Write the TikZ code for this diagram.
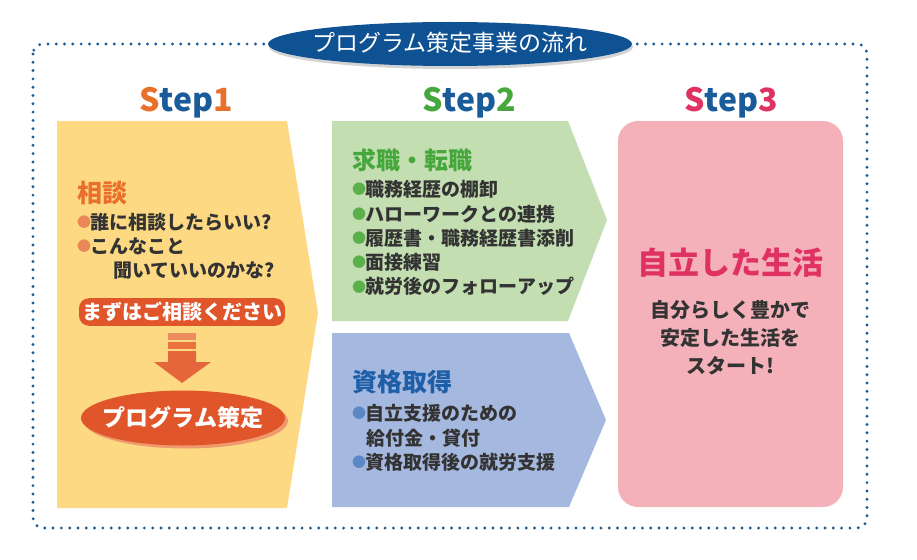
\documentclass[tikz,border=0pt]{standalone}
\usepackage{fontspec}
\setmainfont{Noto Sans CJK JP}
\usepackage{xcolor}
\usetikzlibrary{positioning,shapes.geometric,shadows,calc}

\definecolor{bordo}{HTML}{1A5C9A}
\definecolor{titblu}{HTML}{0F5294}
\definecolor{giallo}{HTML}{FDD984}
\definecolor{verde}{HTML}{C3DEB1}
\definecolor{azzurro}{HTML}{A5B8DF}
\definecolor{rosa}{HTML}{F4B1B9}
\definecolor{arancio}{HTML}{E8702B}
\definecolor{arancioscuro}{HTML}{E0552A}
\definecolor{ombra}{HTML}{EE9A6C}
\definecolor{pallor}{HTML}{EA8756}
\definecolor{verdetesto}{HTML}{46A83C}
\definecolor{pallver}{HTML}{5CB04C}
\definecolor{blutesto}{HTML}{1E5FA8}
\definecolor{pallblu}{HTML}{5B88C4}
\definecolor{cremisi}{HTML}{E03262}
\definecolor{testo}{HTML}{333333}
\definecolor{stris1}{HTML}{EC8C5E}
\definecolor{stris2}{HTML}{E8733F}
\definecolor{freccia}{HTML}{E5663A}

\tikzset{
    stepnum/.style={
        anchor=base,
        inner sep=0pt,
        text=bordo,
        font=\bfseries\fontsize{32}{32}\selectfont
    },
    head/.style={
        anchor=west,
        inner sep=0pt,
        font=\bfseries\fontsize{24}{24}\selectfont
    },
    item/.style={
        anchor=west,
        inner sep=0pt,
        text=testo,
        font=\bfseries\fontsize{19}{19}\selectfont
    },
    bollo/.style={
        fill=arancioscuro,
        rounded corners=10pt,
        inner xsep=3pt,
        inner ysep=4pt,
        text=white,
        font=\bfseries\fontsize{20}{20}\selectfont
    }
}
\newcommand{\pallino}[1]{{\color{#1}\makebox[0.72em][c]{\raisebox{1.9pt}{\fontsize{14}{14}\selectfont●}}}}

\begin{document}
\begin{tikzpicture}[x=1pt,y=-1pt]
        \useasboundingbox (0,0) rectangle (917,559);

        % Cornice a puntini
        \draw[bordo, line width=3.2pt, line cap=round, dash pattern=on 0pt off 8.3pt,
              rounded corners=10pt] (33,44) rectangle (867,528);

        % Titolo
        \fill[titblu, drop shadow={opacity=0.35, shadow xshift=1pt, shadow yshift=-3pt}]
            (450,44) ellipse (182pt and 22pt);
        \node[text=white, font=\fontsize{23}{23}\selectfont] (titolo) at (450,43) {プログラム策定事業の流れ};

        % Riquadri dei passi
        \fill[giallo] (57,121) -- (287,121) -- (318,313) -- (287,508) -- (57,508) -- cycle;
        \fill[verde] (332,121) -- (568,121) -- (607,220) -- (568,321) -- (332,321) -- cycle;
        \fill[azzurro] (332,333) -- (569,333) -- (606,420) -- (569,507) -- (332,507) -- cycle;
        \fill[rosa, rounded corners=20pt] (618,121) rectangle (843,507);

        % Etichette Step
        \node[stepnum] (step1) at (186,112) {\textcolor{arancio}{S}tep\textcolor{arancio}{1}};
        \node[stepnum] (step2) at (469,112) {\textcolor{verdetesto}{S}tep\textcolor{verdetesto}{2}};
        \node[stepnum] (step3) at (731,112) {\textcolor{cremisi}{S}tep\textcolor{cremisi}{3}};

        % Step 1
        \node[head, text=arancio, font=\bfseries\fontsize{25}{25}\selectfont] (sodan) at (77,193) {相談};
        \node[item] (s1a) at (77,222) {\pallino{pallor}誰に相談したらいい?};
        \node[item] (s1b) at (77,246) {\pallino{pallor}こんなこと};
        \node[item] (s1c) at (113,271) {聞いていいのかな?};

        \node[bollo] (mazu) at (182,312) {まずはご相談ください};

        \fill[stris1] (168,333) rectangle (196,340);
        \fill[stris2] (168,342) rectangle (196,349);
        \fill[freccia] (168,351) -- (196,351) -- (196,362) -- (211,362) -- (182,383)
            -- (154,362) -- (168,362) -- cycle;

        \fill[ombra] (186,421) ellipse (102pt and 27.5pt);
        \fill[arancioscuro] (183,418) ellipse (102pt and 27.5pt);
        \node[text=white, font=\bfseries\fontsize{23}{23}\selectfont] (piano) at (183,418) {プログラム策定};

        % Step 2
        \node[head, text=verdetesto] (kyushoku) at (352,160) {求職・転職};
        \foreach \t [count=\i] in {職務経歴の棚卸, ハローワークとの連携, 履歴書・職務経歴書添削, 面接練習, 就労後のフォローアップ}
            \node[item] (v\i) at (352,{189.5+24.3*(\i-1)}) {\pallino{pallver}\t};

        \node[head, text=blutesto, font=\bfseries\fontsize{25}{25}\selectfont] (shikaku) at (352,382) {資格取得};
        \node[item] (b1) at (352,413) {\pallino{pallblu}自立支援のための};
        \node[item] (b2) at (366,438) {給付金・貸付};
        \node[item] (b3) at (352,462) {\pallino{pallblu}資格取得後の就労支援};

        % Step 3
        \node[text=cremisi, inner sep=0pt, font=\bfseries\fontsize{31}{31}\selectfont] (jiritsu) at (730,263) {自立した生活};
        \node[text=testo, inner sep=0pt, align=center, font=\bfseries\fontsize{20}{28}\selectfont] (vita) at (730,338)
            {自分らしく豊かで\\安定した生活を\\スタート!};

    \end{tikzpicture}
\end{document}
